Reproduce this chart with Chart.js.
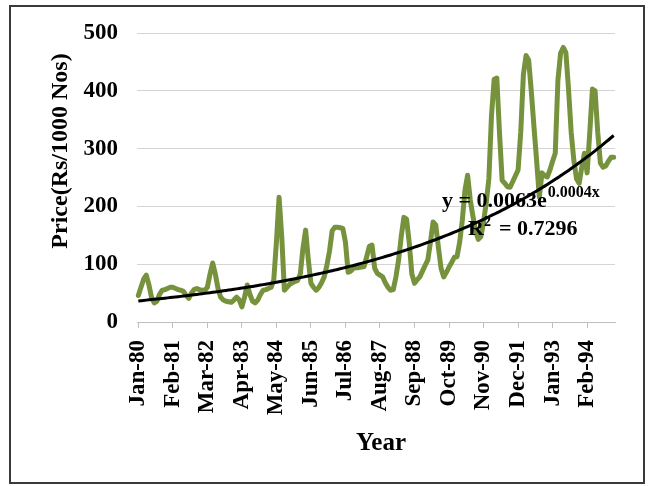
<!DOCTYPE html>
<html>
<head>
<meta charset="utf-8">
<script src="https://cdn.jsdelivr.net/npm/chart.js@4"></script>
<style>
  html, body { margin: 0; padding: 0; background: #fff; }
  #wrap { position: relative; width: 651px; height: 486px; }
</style>
</head>
<body>
<div id="wrap"><canvas id="c" width="651" height="486"></canvas></div>
<script>
// Monthly price series, Jan 1980 – Dec 1994
const monthNames = ['Jan','Feb','Mar','Apr','May','Jun','Jul','Aug','Sep','Oct','Nov','Dec'];
const years = [80, 81, 82, 83, 84, 85, 86, 87, 88, 89, 90, 91, 92, 93, 94];

const price = [
  // 1980
  46, 60, 74, 81, 64, 42, 33, 36, 48, 55, 56, 58,
  // 1981
  60, 60, 58, 56, 55, 53, 46, 41, 50, 56, 58, 56,
  // 1982
  55, 55, 60, 83, 102, 83, 58, 43, 38, 36, 35, 34,
  // 1983
  38, 43, 38, 26, 43, 64, 48, 36, 33, 38, 48, 55,
  // 1984
  56, 58, 60, 73, 138, 216, 148, 55, 60, 65, 68, 70,
  // 1985
  72, 83, 128, 159, 108, 67, 60, 55, 60, 68, 78, 98,
  // 1986
  123, 158, 164, 164, 163, 162, 138, 86, 88, 93, 94, 94,
  // 1987
  95, 96, 113, 131, 133, 93, 84, 81, 78, 68, 60, 55,
  // 1988
  56, 78, 107, 148, 181, 178, 138, 83, 67, 73, 78, 88,
  // 1989
  98, 107, 138, 173, 168, 129, 93, 78, 86, 95, 103, 112,
  // 1990
  113, 138, 176, 228, 254, 211, 183, 158, 143, 148, 173, 206,
  // 1991
  248, 358, 420, 422, 328, 245, 240, 234, 233, 243, 253, 263,
  // 1992
  328, 428, 461, 453, 398, 337, 278, 216, 258, 253, 251, 263,
  // 1993
  278, 292, 418, 465, 475, 466, 403, 328, 280, 248, 240, 268,
  // 1994
  292, 258, 328, 403, 400, 328, 275, 268, 270, 278, 285, 285
];

const labelEvery = 13;        // one axis label per 13 months
const yTicks = { min: 0, max: 500, step: 50 };

// Exponential trend: y = a·e^(b·x), x in days
const trendEquation = { base: 'y = 0.0063e', exponent: '0.0004x' };
const trendRate = 0.0004;     // growth per day, as stated in the equation
const trendStart = 36.5;      // trend level at Jan-80
const trendR2 = '0.7296';

// Category labels like "Jan-80"
const categories = [];
years.forEach(y => monthNames.forEach(m => categories.push(m + '-' + y)));

// Trend value for each month, from the day count since the first month
const t0 = Date.UTC(1980, 0, 1);
const trend = categories.map((_, i) => {
  const days = (Date.UTC(1980, i, 1) - t0) / 86400000;
  return trendStart * Math.exp(trendRate * days);
});

const SERIF = "'Liberation Serif', 'DejaVu Serif', serif";

// Axis titles, trend equation and frame
const annotations = {
  id: 'annotations',
  afterDraw(chart) {
    const ctx = chart.ctx;
    ctx.save();
    ctx.fillStyle = '#000';

    // y-axis title
    ctx.save();
    ctx.translate(61, 151);
    ctx.rotate(-Math.PI / 2);
    ctx.font = 'bold 24px ' + SERIF;
    ctx.textAlign = 'center';
    ctx.textBaseline = 'middle';
    ctx.fillText('Price(Rs/1000 Nos)', 0, 0);
    ctx.restore();

    // x-axis title
    ctx.font = 'bold 25px ' + SERIF;
    ctx.textAlign = 'center';
    ctx.textBaseline = 'alphabetic';
    ctx.fillText('Year', 381, 450);

    // trend equation
    ctx.textAlign = 'left';
    ctx.font = 'bold 22px ' + SERIF;
    ctx.fillText(trendEquation.base, 442, 207);
    const w = ctx.measureText(trendEquation.base).width;
    ctx.font = 'bold 16px ' + SERIF;
    ctx.fillText(trendEquation.exponent, 442 + w + 1, 197);

    ctx.font = 'bold 22px ' + SERIF;
    ctx.fillText('R', 468, 235);
    const wr = ctx.measureText('R').width;
    ctx.font = 'bold 14px ' + SERIF;
    ctx.fillText('2', 468 + wr, 226);
    ctx.font = 'bold 22px ' + SERIF;
    ctx.fillText('= ' + trendR2, 468 + wr + 15, 235);

    // frame
    ctx.strokeStyle = '#3a3a3a';
    ctx.lineWidth = 2;
    ctx.strokeRect(10, 6, 634, 477);
    ctx.restore();
  }
};

new Chart(document.getElementById('c'), {
  type: 'line',
  data: {
    labels: categories,
    datasets: [
      {
        label: 'Trend',
        data: trend,
        borderColor: '#000',
        borderWidth: 3,
        pointRadius: 0,
        fill: false,
        order: 0
      },
      {
        label: 'Price',
        data: price,
        borderColor: '#76923c',
        borderWidth: 5,
        borderJoinStyle: 'round',
        borderCapStyle: 'round',
        pointRadius: 0,
        tension: 0,
        fill: false,
        order: 1
      }
    ]
  },
  options: {
    responsive: false,
    animation: false,
    devicePixelRatio: 1,
    layout: { padding: { left: 0, right: 36, top: 33, bottom: 0 } },
    plugins: { legend: { display: false }, tooltip: { enabled: false } },
    scales: {
      x: {
        type: 'category',
        offset: true,
        afterFit(scale) { scale.height = 164; },
        grid: { display: true, drawOnChartArea: false, drawTicks: true, tickLength: 6, color: '#bfbfbf' },
        border: { display: true, color: '#bfbfbf' },
        ticks: {
          autoSkip: false,
          minRotation: 90,
          maxRotation: 90,
          padding: 12,
          color: '#000',
          font: { family: SERIF, size: 23, weight: 'bold' },
          callback: (v, i) => (i % labelEvery === 0 ? categories[i] : null)
        }
      },
      y: {
        min: yTicks.min,
        max: yTicks.max,
        afterFit(scale) { scale.width = 137; },
        grid: { color: '#d4d4d4', drawTicks: false },
        border: { display: false },
        ticks: {
          stepSize: yTicks.step,
          padding: 19,
          color: '#000',
          font: { family: SERIF, size: 23, weight: 'bold' }
        }
      }
    }
  },
  plugins: [annotations]
});
</script>
</body>
</html>
